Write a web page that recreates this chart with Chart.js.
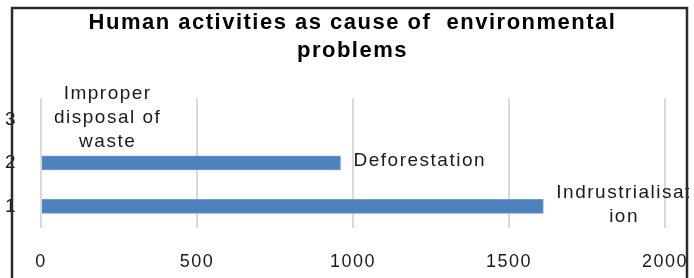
<!DOCTYPE html>
<html>
<head>
<meta charset="utf-8">
<script src="https://cdn.jsdelivr.net/npm/chart.js@4.4.1/dist/chart.umd.min.js"></script>
<style>
  html, body { margin: 0; padding: 0; background: #fff; }
  #wrap { width: 694px; height: 278px; }
</style>
</head>
<body>
<div id="wrap"><canvas id="myChart" width="694" height="278"></canvas></div>
<script>
const categories = ['1', '2', '3'];
const values = [1610, 960, 0];
const barNames = [['Indrustrialisat', 'ion'], ['Deforestation'], ['Improper', 'disposal of', 'waste']];
const titleLines = ['Human activities as cause of  environmental', 'problems'];

const FONT = '"Liberation Sans", Arial, sans-serif';

// data labels next to bar ends + outer frame
const extras = {
  id: 'extras',
  beforeUpdate(chart) {
    chart.ctx.letterSpacing = '1.5px';
  },
  beforeDraw(chart) {
    chart.ctx.letterSpacing = '1.5px';
  },
  afterDatasetsDraw(chart) {
    const c = chart.ctx;
    const meta = chart.getDatasetMeta(0);
    c.save();
    c.font = '19px ' + FONT;
    c.fillStyle = '#1a1a1a';
    c.textBaseline = 'middle';
    c.textAlign = 'center';
    meta.data.forEach((bar, i) => {
      const lines = barNames[i];
      const w = Math.max(...lines.map(l => c.measureText(l).width));
      const left = bar.x + 13;
      const lh = 24;
      const y0 = bar.y - (lines.length - 1) * lh / 2 - 2;
      lines.forEach((l, k) => c.fillText(l, left + w / 2, y0 + k * lh));
    });
    c.restore();
  },
  afterDraw(chart) {
    const c = chart.ctx;
    c.save();
    c.fillStyle = '#fff';
    c.fillRect(689, 0, 5, 278);
    c.strokeStyle = '#2b2b2b';
    c.lineWidth = 2.5;
    c.beginPath();
    c.moveTo(12, 290);
    c.lineTo(12, 8);
    c.lineTo(687, 8);
    c.lineTo(687, 290);
    c.stroke();
    c.restore();
  }
};

new Chart(document.getElementById('myChart'), {
  type: 'bar',
  data: {
    labels: categories,
    datasets: [{
      data: values,
      backgroundColor: '#4F81BD',
      borderColor: '#6f9bd0',
      borderWidth: 1,
      barThickness: 14
    }]
  },
  options: {
    indexAxis: 'y',
    responsive: false,
    animation: false,
    layout: { padding: { left: 0, right: -11, top: 0, bottom: 0 } },
    plugins: {
      legend: { display: false },
      tooltip: { enabled: false },
      title: {
        display: true,
        text: titleLines,
        color: '#000',
        font: { family: FONT, size: 22, weight: 'bold', lineHeight: 1.27 },
        padding: { top: 9, bottom: 33 }
      }
    },
    scales: {
      x: {
        min: 0,
        max: 2000,
        ticks: { stepSize: 500, color: '#1a1a1a', padding: 23, maxRotation: 0,
                 font: { family: FONT, size: 18 },
                 callback: v => String(v) },
        grid: { color: '#d9d9d9', lineWidth: 2, drawTicks: false },
        border: { display: false },
        afterFit(s) { s.height = 50; s.paddingLeft = 0; s.paddingRight = 29; }
      },
      y: {
        reverse: true,
        ticks: { color: '#1a1a1a', padding: 24, font: { family: FONT, size: 19 } },
        grid: { display: false, drawTicks: false },
        border: { display: false },
        afterFit(s) { s.width = 41; }
      }
    }
  },
  plugins: [extras]
});
</script>
</body>
</html>
